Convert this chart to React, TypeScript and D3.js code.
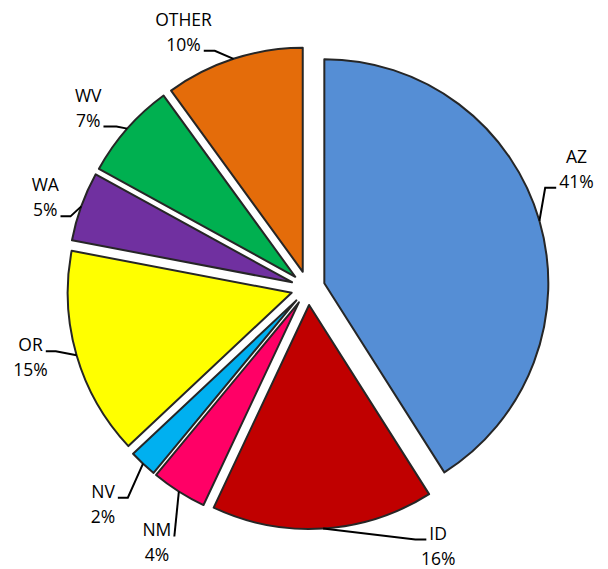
import React, { useEffect, useRef } from "react";
import * as d3 from "d3";

const states = ["AZ", "ID", "NM", "NV", "OR", "WA", "WV", "OTHER"];
const shares = [41, 16, 4, 2, 15, 5, 7, 10];
const colors = ["#558ED5", "#C00000", "#FF0066", "#00B0F0", "#FFFF00", "#7030A0", "#00B050", "#E46C0A"];

// label placement, relative to where the leader leaves the slice edge
const labelLayout = [
    { dx: 37, dy: -58, line: 1, side: "left", knee: 11 },
    { dx: 115, dy: 11, line: 0, side: "left", knee: 11 },
    { dx: -22, dy: 45, line: 0, side: "right", knee: 0 },
    { dx: -40, dy: 34, line: 0, side: "right", knee: 10 },
    { dx: -46, dy: -4, line: 0, side: "right", knee: 10 },
    { dx: -36, dy: -15, line: 1, side: "right", knee: 10 },
    { dx: -39, dy: -27, line: 1, side: "right", knee: 13 },
    { dx: -50, dy: -33, line: 1, side: "right", knee: 11 },
];

const App = () => {
    const ref = useRef<SVGSVGElement>(null);

    useEffect(() => {
        const width = 608;
        const height = 569;
        const cx = 308;
        const cy = 288;
        const radius = 224;
        const explode = 17;
        const lineGap = 25;

        const svg = d3.select(ref.current).attr("width", width).attr("height", height);
        svg.selectAll("*").remove();

        const data = states.map((s, i) => ({ state: s, share: shares[i], color: colors[i], i }));

        const pie = d3.pie<any>().sort(null).value(d => d.share);
        const arcs = pie(data);
        const arc = d3.arc<any>().innerRadius(0).outerRadius(radius);

        const g = svg.append("g").attr("transform", `translate(${cx},${cy})`);

        const offset = (a: any) => {
            const mid = (a.startAngle + a.endAngle) / 2;
            return [Math.sin(mid) * explode, -Math.cos(mid) * explode];
        };

        // Slices
        g.selectAll("path.slice")
            .data(arcs)
            .join("path")
            .attr("class", "slice")
            .attr("transform", d => {
                const [ox, oy] = offset(d);
                return `translate(${ox},${oy})`;
            })
            .attr("d", arc as any)
            .attr("fill", d => d.data.color)
            .attr("stroke", "#262626")
            .attr("stroke-width", 2)
            .attr("stroke-linejoin", "round");

        // Labels + leader lines
        arcs.forEach((a, i) => {
            const lay = labelLayout[i];
            const mid = (a.startAngle + a.endAngle) / 2;
            const [ox, oy] = offset(a);
            const ex = ox + Math.sin(mid) * radius;
            const ey = oy - Math.cos(mid) * radius;
            const tx = ex + lay.dx;
            const ty = ey + lay.dy;

            const txt = g.append("text")
                .attr("font-family", "'Open Sans', sans-serif")
                .attr("font-size", "17.5px")
                .attr("fill", "#000")
                .attr("text-anchor", "middle");
            const lines = [a.data.state, a.data.share + "%"];
            const spans = lines.map((t, k) =>
                txt.append("tspan").attr("x", tx).attr("y", ty + k * lineGap).text(t)
            );
            const w = (spans[lay.line].node() as SVGTSpanElement).getComputedTextLength();
            const endX = lay.side === "right" ? tx + w / 2 + 3 : tx - w / 2 - 3;
            const endY = ty + lay.line * lineGap;
            const kneeX = lay.side === "right" ? endX + lay.knee : endX - lay.knee;

            g.append("path")
                .attr("d", d3.line()([[ex, ey], [kneeX, endY], [endX, endY]]))
                .attr("fill", "none")
                .attr("stroke", "#000")
                .attr("stroke-width", 2);
        });
    }, []);

    return (
        <svg ref={ref} style={{ position: "absolute", left: 0, top: 0, background: "#fff" }} />
    );
};

export default App;
